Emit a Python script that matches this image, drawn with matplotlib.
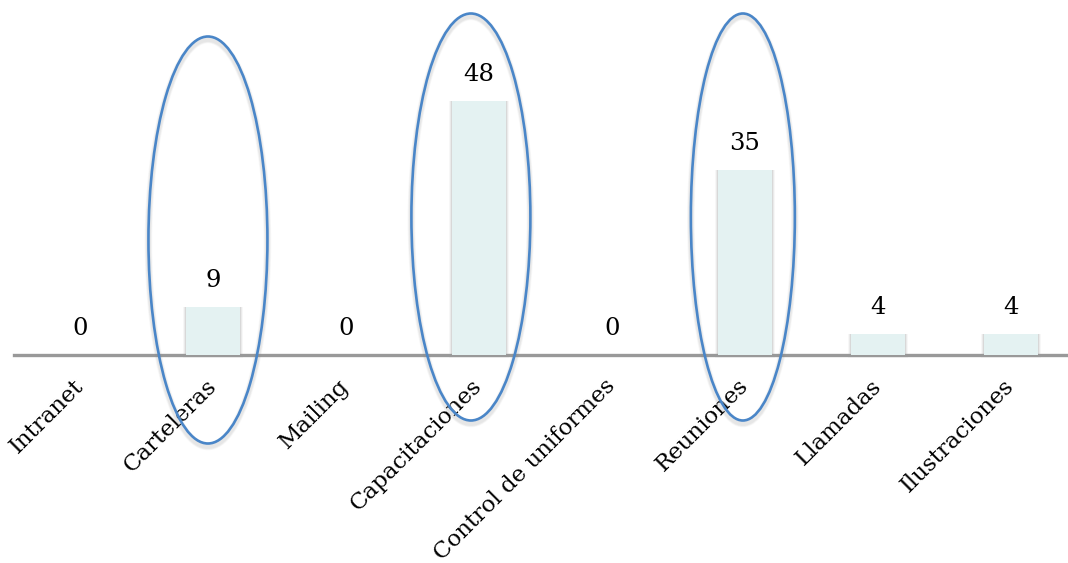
import numpy as np
import matplotlib.pyplot as plt
from matplotlib.patches import Ellipse, Rectangle

plt.rcParams['font.family'] = ['DejaVu Serif']

categorias = ['Intranet', 'Carteleras', 'Mailing', 'Capacitaciones',
              'Control de uniformes', 'Reuniones', 'Llamadas', 'Ilustraciones']
valores = [0, 9, 0, 48, 0, 35, 4, 4]
destacadas = ['Carteleras', 'Capacitaciones', 'Reuniones']

W, H = 1068, 563
fig = plt.figure(figsize=(W / 100, H / 100), dpi=100)
# baseline sits at y=355px, one category step is 133px
ax = fig.add_axes([14 / W, 1 - 355 / H, 1054 / W, 355 / H])
ax.set_xlim(-0.496, 7.43)
ax.set_ylim(0, 67.1)

px_y = 67.1 / 355  # data units per pixel, vertical
px_x = 1 / 133      # data units per pixel, horizontal

x = np.arange(len(categorias))
ancho = 0.41

# soft shadow behind each bar
for xi, v in zip(x, valores):
    if v > 0:
        for k, a in [(3, 0.06), (2, 0.10), (1, 0.16)]:
            ax.add_patch(Rectangle((xi - ancho / 2 - k * px_x, -k * px_y),
                                   ancho + 2 * k * px_x, v + k * px_y,
                                   facecolor='#7f7f7f', edgecolor='none',
                                   alpha=a, zorder=1, clip_on=False))

ax.axhline(0, color='#999999', lw=2.4, zorder=1.5, clip_on=False)
ax.bar(x, valores, width=ancho, color='#e4f2f2', edgecolor='none', zorder=2)

for xi, v in zip(x, valores):
    ax.annotate(str(v), (xi, v), xytext=(0, 11), textcoords='offset points',
                ha='center', va='bottom', fontsize=17.5, color='black')

ax.set_xticks(x)
ax.set_xticklabels(categorias, rotation=45, ha='right', rotation_mode='anchor',
                   fontsize=16.5)
ax.tick_params(axis='x', length=0, pad=20)
ax.tick_params(axis='y', left=False, labelleft=False)
for s in ax.spines.values():
    s.set_visible(False)
for lbl in ax.get_xticklabels():
    lbl.set_va('center')

# ellipses around highlighted categories (center offset px, center y px, w, h)
elipses = {
    'Carteleras': (-5, 240, 119, 407),
    'Capacitaciones': (-8, 217, 119, 407),
    'Reuniones': (-2, 217, 104, 407),
}
for nombre in destacadas:
    dx, cy, w, h = elipses[nombre]
    i = categorias.index(nombre)
    cx = i + dx * px_x
    cyd = (355 - cy) * px_y
    for k, a in [(4, 0.05), (3, 0.07), (2, 0.09)]:
        ax.add_patch(Ellipse((cx, cyd - 3 * px_y), w * px_x, h * px_y,
                             facecolor='none', edgecolor='#888888',
                             lw=1.5 + k, alpha=a, clip_on=False, zorder=3))
    ax.add_patch(Ellipse((cx, cyd), w * px_x, h * px_y, facecolor='none',
                         edgecolor='#4a86c8', lw=1.9, clip_on=False, zorder=4))

fig.savefig('out.png', dpi=100)
